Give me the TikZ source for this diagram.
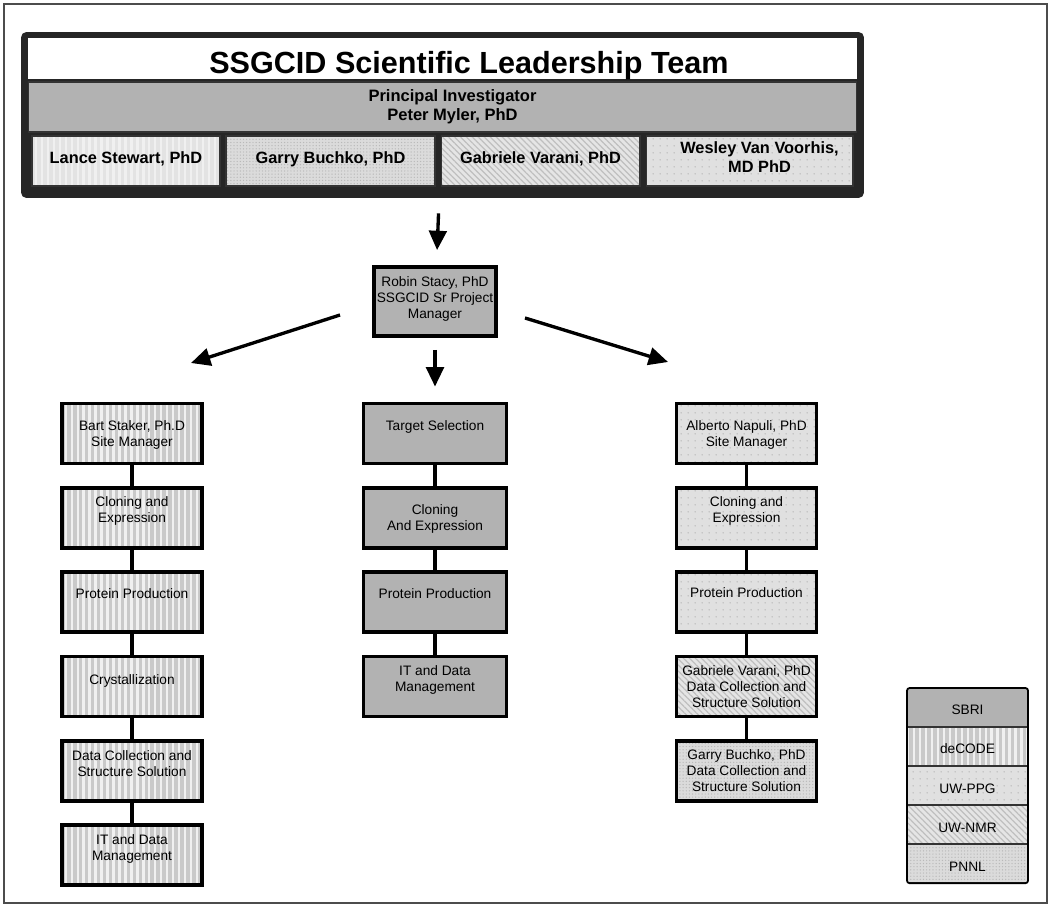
\documentclass[tikz,border=0pt]{standalone}
\usepackage{fontspec}
\setmainfont{Liberation Sans}
\usetikzlibrary{positioning,arrows.meta,patterns.meta}

% text block in a box, raised by the optional amount
\newcommand{\celltext}[2][-2.9pt]{\raisebox{#1}[0pt][0pt]{\begin{tabular}{@{}c@{}}#2\end{tabular}}}

\begin{document}
\begin{tikzpicture}[x=0.02cm, y=-0.02cm,
  font=\fontsize{7.8}{9.1}\selectfont,
  box/.style={draw, line width=2.2pt, inner sep=0pt, minimum width=2.8cm,
              minimum height=1.2cm},
  cell/.style={draw=black!80, line width=0.6pt, inner sep=0pt, minimum height=1cm,
               font=\fontsize{9.3}{11.3}\selectfont\bfseries},
  key/.style={draw=black!80, line width=0.6pt, inner sep=0pt, minimum width=2.4cm,
              minimum height=0.76cm},
  sbri/.style={preaction={fill=gray!60}},
  decode/.style={preaction={fill=#1},
                 preaction={pattern={Lines[angle=90,distance=3.4pt,line width=1.3pt]},
                            pattern color=gray!12}},
  decode/.default=gray!42,
  uwppg/.style={preaction={fill=gray!24},
                preaction={pattern={Dots[radius=0.45pt,distance=4pt]},
                           pattern color=gray!65}},
  uwnmr/.style={preaction={fill=gray!20},
                preaction={pattern={Lines[angle=-45,distance=2.4pt,line width=0.7pt]},
                           pattern color=gray!50}},
  pnnl/.style={preaction={fill=gray!28},
               preaction={pattern={Dots[radius=0.4pt,distance=1.8pt]},
                          pattern color=gray!55}},
  link/.style={line width=2.2pt},
  arr/.style={-{Triangle[length=11pt,width=10pt]}, line width=1.9pt}]
\useasboundingbox (0,0) rectangle (1050,911);
\draw[line width=0.9pt, black!70] (4,4) rectangle (1047,903);

% leadership team
\node[fill=black!85, rounded corners=3pt, inner sep=0pt, minimum width=16.86cm,
      minimum height=3.32cm] (team) at (442.5,115) {};
\node[fill=white, inner sep=0pt, minimum width=16.58cm, minimum height=0.82cm,
      font=\fontsize{17.4}{20}\selectfont\bfseries] (title) at (442.5,58.5)
  {\hspace*{1.06cm}\celltext[-8.6pt]{SSGCID Scientific Leadership Team}};
\node[cell, sbri, minimum width=16.58cm, font=\fontsize{9.4}{11.3}\selectfont\bfseries]
  (pi) at (442.5,107) {\hspace*{0.4cm}\celltext[-2.3pt]{Principal Investigator\\Peter Myler, PhD}};
\node[cell, decode=gray!22, minimum width=3.76cm] (lance) at (126,161)
  {\celltext[-1.5pt]{Lance Stewart, PhD}};
\node[cell, pnnl, minimum width=4.18cm] (garry) at (330.5,161)
  {\celltext[-1.5pt]{Garry Buchko, PhD}};
\node[cell, uwnmr, minimum width=3.98cm] (gabriele) at (540.5,161)
  {\celltext[-1.5pt]{Gabriele Varani, PhD}};
\node[cell, uwppg, minimum width=4.14cm] (wesley) at (749.5,161)
  {\hspace*{0.4cm}\celltext[-1.1pt]{Wesley Van Voorhis,\\MD PhD}};

% project manager
\node[box, sbri, minimum width=2.44cm, minimum height=1.38cm] (robin) at (435,301.5)
  {\celltext[-0.8pt]{Robin Stacy, PhD\\SSGCID Sr Project\\Manager}};

% deCODE column
\node[box, decode] (lsite) at (132,433.5) {\celltext{Bart Staker, Ph.D\\Site Manager}};
\node[box, decode, below=0.41cm of lsite] (lclone) {\celltext[2pt]{Cloning and\\Expression}};
\node[box, decode, below=0.41cm of lclone] (lprot) {\celltext[2.2pt]{Protein Production}};
\node[box, decode, below=0.41cm of lprot] (lcryst) {\celltext[1.2pt]{Crystallization}};
\node[box, decode, below=0.41cm of lcryst] (ldata)
  {\celltext[1.2pt]{Data Collection and\\Structure Solution}};
\node[box, decode, below=0.41cm of ldata] (lit) {\celltext[1.6pt]{IT and Data\\Management}};

% SBRI column
\node[box, sbri, minimum width=2.86cm] (tsel) at (435,433.5) {\celltext[1.6pt]{Target Selection}};
\node[box, sbri, minimum width=2.86cm, below=0.41cm of tsel] (mclone)
  {\celltext{Cloning\\And Expression}};
\node[box, sbri, minimum width=2.86cm, below=0.41cm of mclone] (mprot)
  {\celltext[2.2pt]{Protein Production}};
\node[box, sbri, minimum width=2.86cm, below=0.41cm of mprot] (mit)
  {\celltext[1.6pt]{IT and Data\\Management}};

% UW-PPG column
\node[box, uwppg] (rsite) at (746.5,433.5) {\celltext{Alberto Napuli, PhD\\Site Manager}};
\node[box, uwppg, below=0.41cm of rsite] (rclone) {\celltext[2pt]{Cloning and\\Expression}};
\node[box, uwppg, below=0.41cm of rclone] (rprot) {\celltext[2.4pt]{Protein Production}};
\node[box, uwnmr, below=0.41cm of rprot] (rnmr)
  {\celltext{Gabriele Varani, PhD\\Data Collection and\\Structure Solution}};
\node[box, pnnl, below=0.41cm of rnmr] (rpnnl)
  {\celltext{Garry Buchko, PhD\\Data Collection and\\Structure Solution}};

\foreach \a/\b in {lsite/lclone, lclone/lprot, lprot/lcryst, lcryst/ldata, ldata/lit,
                   tsel/mclone, mclone/mprot, mprot/mit,
                   rsite/rclone, rclone/rprot, rprot/rnmr, rnmr/rpnnl}
  \draw[link] (\a) -- (\b);

\coordinate (lfrom) at (340,315);
\coordinate (lto) at (191,363);
\coordinate (rfrom) at (525,318);
\coordinate (rto) at (668,362);
\draw[arr, shorten <=0.3cm, shorten >=0.3cm] (team) -- (robin);
\draw[arr, shorten <=0.24cm, shorten >=0.3cm] (robin) -- (tsel);
\draw[arr] (lfrom) -- (lto);
\draw[arr] (rfrom) -- (rto);

% key
\node[key, sbri] (ksbri) at (967.5,707.5) {\celltext[-4.4pt]{SBRI}};
\node[key, decode, below=0pt of ksbri] (kdecode) {\celltext[-4.4pt]{deCODE}};
\node[key, uwppg, below=0pt of kdecode] (kppg) {\celltext[-4.4pt]{UW-PPG}};
\node[key, uwnmr, below=0pt of kppg] (knmr) {\celltext[-4.4pt]{UW-NMR}};
\node[key, pnnl, below=0pt of knmr] (kpnnl) {\celltext[-4.4pt]{PNNL}};
\draw[line width=1pt, rounded corners=1.5pt] (ksbri.north west) rectangle (kpnnl.south east);
\end{tikzpicture}
\end{document}
